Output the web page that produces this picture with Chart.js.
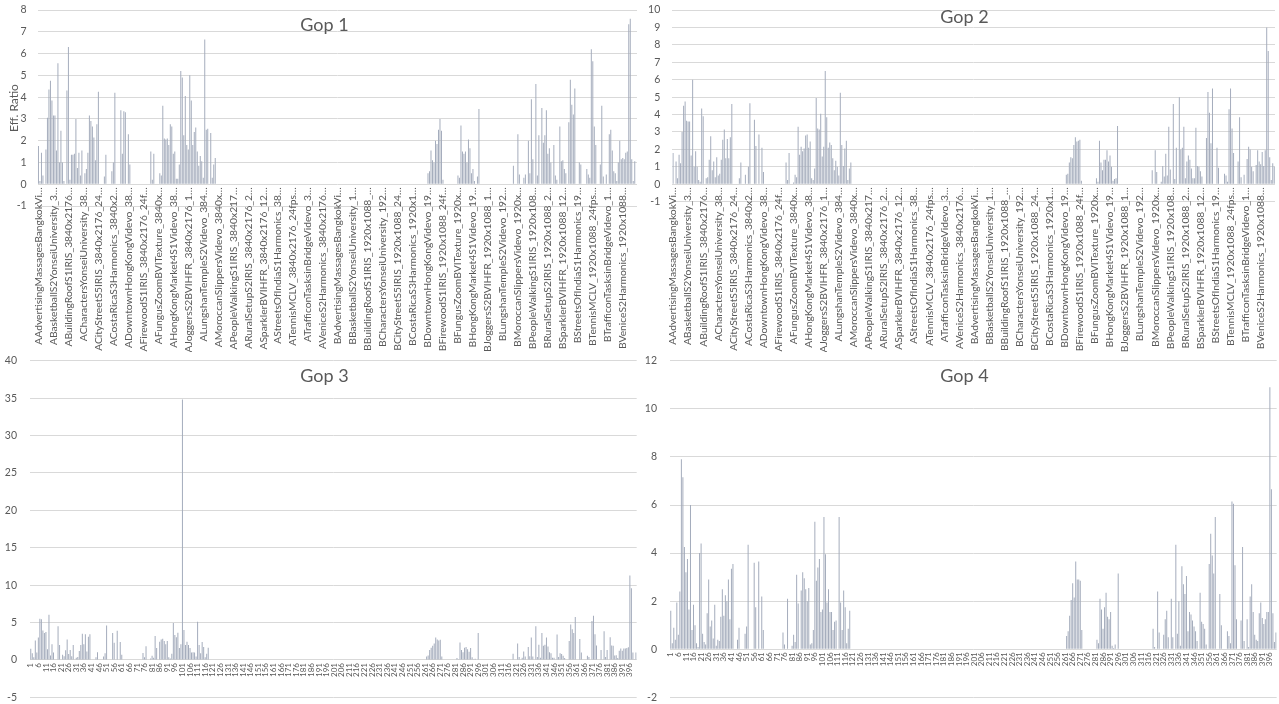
<!DOCTYPE html>
<html>
<head>
<meta charset="utf-8">
<script src="https://cdn.jsdelivr.net/npm/chart.js@4.4.1/dist/chart.umd.min.js"></script>
<style>
  html, body { margin: 0; padding: 0; background: #ffffff; }
  #wrap { position: relative; width: 1279px; height: 704px; overflow: hidden; }
  .panel { position: absolute; }
  .panel canvas { display: block; }
</style>
</head>
<body>
<div id="wrap">
  <div class="panel" style="left:0;top:0;"><canvas id="gop1" width="640" height="352"></canvas></div>
  <div class="panel" style="left:640px;top:0;"><canvas id="gop2" width="639" height="352"></canvas></div>
  <div class="panel" style="left:0;top:352px;"><canvas id="gop3" width="640" height="352"></canvas></div>
  <div class="panel" style="left:640px;top:352px;"><canvas id="gop4" width="639" height="352"></canvas></div>
</div>
<script>
// Sequence names as they appear on the category axis (10 test points per sequence)
const sequenceNames = [
  "AAdvertisingMassagesBangkokVi…", "ABasketballS2YonseiUniversity_3…", "ABuildingRoofS1IRIS_3840x2176…",
  "ACharactersYonseiUniversity_38…", "ACityStreetS5IRIS_3840x2176_24…", "ACostaRicaS3Harmonics_3840x2…",
  "ADowntownHongKongVidevo_38…", "AFirewoodS1IRIS_3840x2176_24f…", "AFungusZoomBVITexture_3840x…",
  "AHongKongMarket4S1Videvo_38…", "AJoggersS2BVIHFR_3840x2176_1…", "ALungshanTempleS2Videvo_384…",
  "AMoroccanSlippersVidevo_3840x…", "APeopleWalkingS1IRIS_3840x217…", "ARuralSetupS2IRIS_3840x2176_2…",
  "ASparklerBVIHFR_3840x2176_12…", "AStreetsOfIndiaS1Harmonics_38…", "ATennisMCLV_3840x2176_24fps…",
  "ATrafficonTasksinBridgeVidevo_3…", "AVeniceS2Harmonics_3840x2176…",
  "BAdvertisingMassagesBangkokVi…", "BBasketballS2YonseiUniversity_1…", "BBuildingRoofS1IRIS_1920x1088_…",
  "BCharactersYonseiUniversity_192…", "BCityStreetS5IRIS_1920x1088_24…", "BCostaRicaS3Harmonics_1920x1…",
  "BDowntownHongKongVidevo_19…", "BFirewoodS1IRIS_1920x1088_24f…", "BFungusZoomBVITexture_1920x…",
  "BHongKongMarket4S1Videvo_19…", "BJoggersS2BVIHFR_1920x1088_1…", "BLungshanTempleS2Videvo_192…",
  "BMoroccanSlippersVidevo_1920x…", "BPeopleWalkingS1IRIS_1920x108…", "BRuralSetupS2IRIS_1920x1088_2…",
  "BSparklerBVIHFR_1920x1088_12…", "BStreetsOfIndiaS1Harmonics_19…", "BTennisMCLV_1920x1088_24fps…",
  "BTrafficonTasksinBridgeVidevo_1…", "BVeniceS2Harmonics_1920x1088…"
];
const pointsPerSequence = 10;

// Eff. Ratio per test point, GOP 1
const gop1Ratio = [
  1.76,0.15,1.45,0.4,0,1.6,3.05,4.35,4.75,3.85,
  3.15,3.15,1.55,5.55,1.0,2.45,1.0,0.15,0,4.3,
  6.3,0.2,1.35,1.35,1.4,3.0,0.75,1.45,0.4,1.55,
  0,0.5,0.7,1.45,3.15,2.9,2.65,2.15,1.1,2.75,
  4.25,0,0,0,0.35,1.35,0,0,0,0.6,
  1.0,4.2,0,0,0,3.4,1.4,3.35,3.3,0,
  2.3,0.9,0,0,0,0,0,0,0,0,
  0,0,0,0,0,1.5,0.2,1.4,0,0,
  0,0.5,0.4,3.6,2.1,2.05,2.1,1.8,2.75,2.65,
  1.4,1.5,0.25,0.25,0.9,5.2,4.9,2.25,4.05,1.8,
  1.6,5.0,3.85,1.8,2.4,2.6,1.5,0.85,1.3,1.05,
  0.3,6.65,2.5,2.55,0,2.35,0.3,0.9,1.2,0,
  0,0,0,0,0,0,0,0,0,0,
  0,0,0,0,0,0,0,0,0,0,
  0,0,0,0,0,0,0,0,0,0,
  0,0,0,0,0,0,0,0,0,0,
  0,0,0,0,0,0,0,0,0,0,
  0,0,0,0,0,0,0,0,0,0,
  0,0,0,0,0,0,0,0,0,0,
  0,0,0,0,0,0,0,0,0,0,
  0,0,0,0,0,0,0,0,0,0,
  0,0,0,0,0,0,0,0,0,0,
  0,0,0,0,0,0,0,0,0,0,
  0,0,0,0,0,0,0,0,0,0,
  0,0,0,0,0,0,0,0,0,0,
  0,0,0,0,0,0,0,0,0,0,
  0.5,0.6,1.55,1.1,1.0,2.0,1.85,2.5,3.0,2.45,
  0.2,0,0,0,0,0,0,0,0,0,
  0.4,0.3,2.7,1.5,1.4,1.5,1.0,2.05,1.65,0.5,
  0.7,0.15,0,0.35,3.45,0,0,0,0,0,
  0,0,0,0,0,0,0,0,0,0,
  0,0,0,0,0,0,0,0.85,0,0,
  2.3,0.45,0,0,0.3,0.45,0,2.0,0.5,3.9,
  1.15,0,4.6,0.4,2.25,0,3.5,1.9,2.25,3.4,
  1.4,1.65,1.0,0,1.8,0.4,0.2,0,2.65,1.05,
  1.1,0.7,0.5,0,2.85,4.8,3.65,3.2,4.4,0,
  0,1.0,0.9,0,0,0,0.7,0.45,0.3,6.2,
  5.65,2.65,1.8,0,0,0.9,3.6,0.35,0,0.45,
  0,2.3,2.5,1.55,0.6,0.5,0.15,1.0,2.0,1.15,
  1.2,1.15,1.45,1.5,7.35,7.6,1.15,0.15,1.05,0
];

// Eff. Ratio per test point, GOP 2
const gop2Ratio = [
  1.8,0,1.3,0.35,1.7,1.2,3.0,4.5,4.75,3.65,
  3.6,3.6,1.65,6.0,1.0,1.9,1.0,0.25,0.15,4.35,
  3.9,0,0.35,0.4,1.4,2.75,0.8,1.3,0.4,1.55,
  0.5,0.6,1.4,2.55,3.15,1.5,2.6,1.5,2.7,4.6,
  0,0,0,0,0.35,1.25,0,0,0.55,0,
  1.0,4.65,0,0,3.7,2.2,0,2.85,0,2.1,
  0.7,0,0,0,0,0,0,0,0,0,
  0,0,0,0,0,1.25,0.25,1.8,0,0,
  0.1,0.55,0.4,3.3,1.7,2.15,1.9,2.05,2.8,2.85,
  2.1,2.45,0.35,0.25,0.9,4.95,3.2,3.15,4.05,1.6,
  2.15,6.5,3.85,2.1,2.4,2.25,1.5,0.8,1.35,1.0,
  0.5,5.25,2.25,1.05,2.05,2.5,0.25,0.9,1.25,0,
  0,0,0,0,0,0,0,0,0,0,
  0,0,0,0,0,0,0,0,0,0,
  0,0,0,0,0,0,0,0,0,0,
  0,0,0,0,0,0,0,0,0,0,
  0,0,0,0,0,0,0,0,0,0,
  0,0,0,0,0,0,0,0,0,0,
  0,0,0,0,0,0,0,0,0,0,
  0,0,0,0,0,0,0,0,0,0,
  0,0,0,0,0,0,0,0,0,0,
  0,0,0,0,0,0,0,0,0,0,
  0,0,0,0,0,0,0,0,0,0,
  0,0,0,0,0,0,0,0,0,0,
  0,0,0,0,0,0,0,0,0,0,
  0,0,0,0,0,0,0,0,0,0,
  0,0.55,0.6,1.25,1.55,1.5,2.25,2.7,2.45,2.5,
  2.55,0.2,0,0,0,0,0,0,0,0,
  0,0.35,0.15,2.5,1.25,0.8,1.4,1.4,1.95,1.3,
  1.65,1.0,0.2,0.3,0.35,3.35,0,0,0,0,
  0,0,0,0,0,0,0,0,0,0,
  0,0,0,0,0,0,0,0,0.8,0,
  1.95,0.7,0,0,0.15,1.05,0.45,1.75,0.5,3.3,
  0.85,0,4.6,0.3,2.1,0,5.0,2.0,2.1,3.3,
  0.35,1.3,1.65,1.4,0.9,0.35,0.35,3.25,1.05,1.0,
  0.75,0.45,0,0,2.65,5.3,4.1,2.35,5.5,0,
  0,2.1,0.95,0,0,0,0.6,0.5,0.15,4.3,
  5.5,3.2,1.8,0,0,1.3,3.85,0.4,0,0.55,
  0,1.45,2.15,2.0,1.0,0.75,0,1.1,1.95,1.3,
  1.15,1.85,1.05,1.95,9.0,7.65,1.55,0.25,1.2,1.0
];

// Eff. Ratio per test point, GOP 3
const gop3Ratio = [
  1.5,0.9,0.35,2.6,1.0,3.0,5.5,5.45,3.95,3.6,
  3.75,1.45,6.05,0.6,2.1,1.0,0,0,4.5,2.0,
  0,0.7,0.5,1.3,2.75,0.8,1.35,0.5,2.0,0,
  0.3,0.4,1.2,2.0,3.5,2.1,3.45,1.15,3.1,3.45,
  0,0,0,0.35,1.05,0,0,0,0.45,0.9,
  4.6,0,0,0,3.6,2.3,0,3.9,0,2.4,
  0.7,0,0,0,0,0,0,0,0,0,
  0,0,0,0,0.95,0.35,1.85,0,0,0.2,
  0.55,0.3,3.2,1.6,0,2.45,2.75,2.85,2.55,2.1,
  2.55,0.35,0.2,0.85,4.95,3.35,3.05,3.65,1.6,2.1,
  34.8,4.0,2.0,2.45,2.0,1.6,1.0,1.05,1.0,0.45,
  5.1,2.0,0.9,2.4,1.75,0.35,0.85,1.65,0,0,
  0,0,0,0,0,0,0,0,0,0,
  0,0,0,0,0,0,0,0,0,0,
  0,0,0,0,0,0,0,0,0,0,
  0,0,0,0,0,0,0,0,0,0,
  0,0,0,0,0,0,0,0,0,0,
  0,0,0,0,0,0,0,0,0,0,
  0,0,0,0,0,0,0,0,0,0,
  0,0,0,0,0,0,0,0,0,0,
  0,0,0,0,0,0,0,0,0,0,
  0,0,0,0,0,0,0,0,0,0,
  0,0,0,0,0,0,0,0,0,0,
  0,0,0,0,0,0,0,0,0,0,
  0,0,0,0,0,0,0,0,0,0,
  0,0,0,0,0,0,0,0,0,0,
  0,0.45,0.6,1.35,1.65,1.9,2.2,3.0,2.75,2.6,
  2.7,0.45,0,0,0,0,0,0,0,0,
  0,0.25,0.1,2.35,1.35,1.05,1.65,1.75,1.45,1.1,
  1.6,0.35,0.1,0.15,0,3.6,0,0,0,0,
  0,0,0,0,0,0,0,0,0,0,
  0,0,0,0,0,0,0,0,0.85,0,
  0,2.2,0.4,0,0.3,1.15,0.45,0,1.75,0.5,
  3.0,0.45,0,4.5,0.4,2.05,0.3,3.6,1.9,2.05,
  3.0,1.8,1.05,0.9,0.3,0.3,0,3.4,0.4,0.9,
  0.8,0.55,0.25,0,0,2.55,4.75,4.1,3.6,5.75,
  0,0,2.8,1.0,0,0,0,0.55,0.4,0,
  5.2,5.9,3.45,1.95,0,0,1.35,0,3.85,0.4,
  1.35,0,3.05,1.95,1.9,0.6,0.65,0.25,1.25,1.55,
  1.25,1.55,1.55,1.6,1.7,11.3,9.6,1.0,0.1,1.0
];

// Eff. Ratio per test point, GOP 4
const gop4Ratio = [
  1.6,0.25,0.9,0.4,1.95,0.6,2.4,7.9,7.15,4.25,
  3.2,3.75,1.65,6.0,0.8,1.85,1.0,0.25,0.1,4.0,
  4.4,0.65,0.3,0.2,1.5,2.9,0.95,1.2,0.45,1.85,
  0.15,0.4,0.35,1.35,2.5,1.4,2.25,2.0,2.9,1.25,
  3.35,3.55,0,0,0.4,0.9,0,0,0,0.65,
  0.95,4.35,0,0,0,3.6,1.75,0,3.65,0,
  2.2,0.8,0,0,0,0,0,0,0,0,
  0,0,0,0,0.7,0.2,0,2.1,0,0,
  0.15,0.6,0.3,3.1,1.9,0,2.45,3.2,2.95,2.5,
  2.0,2.55,0.2,0.25,0.8,5.3,2.85,3.4,3.75,1.55,
  1.65,5.5,3.95,1.95,2.5,1.55,1.55,0.8,1.15,1.2,
  0,5.5,1.95,0.8,2.45,1.75,0.25,0.85,1.6,0,
  0,0,0,0,0,0,0,0,0,0,
  0,0,0,0,0,0,0,0,0,0,
  0,0,0,0,0,0,0,0,0,0,
  0,0,0,0,0,0,0,0,0,0,
  0,0,0,0,0,0,0,0,0,0,
  0,0,0,0,0,0,0,0,0,0,
  0,0,0,0,0,0,0,0,0,0,
  0,0,0,0,0,0,0,0,0,0,
  0,0,0,0,0,0,0,0,0,0,
  0,0,0,0,0,0,0,0,0,0,
  0,0,0,0,0,0,0,0,0,0,
  0,0,0,0,0,0,0,0,0,0,
  0,0,0,0,0,0,0,0,0,0,
  0,0,0,0,0,0,0,0,0,0,
  0,0.55,0.75,1.4,2.05,2.75,2.15,3.65,2.9,2.9,
  2.85,0.8,0,0,0,0,0,0,0,0,
  0,0.4,0.25,2.1,1.65,0.85,1.75,2.35,1.35,1.25,
  1.55,0.15,0.05,0.2,0,3.15,0,0,0,0,
  0,0,0,0,0,0,0,0,0,0,
  0,0,0,0,0,0,0,0,0.85,0.1,
  0,2.4,0.7,0,0,0.6,1.25,1.6,0.5,0,
  2.1,0.5,0,4.35,0.65,2.0,0.15,3.45,2.7,2.3,
  3.05,0.75,1.55,1.45,1.2,0.95,0.75,0.35,0,2.35,
  1.15,1.05,0.85,0.2,0,3.55,4.8,3.9,3.15,5.5,
  0,0,2.3,1.0,0,0,0,0.75,0.55,0.25,
  6.15,6.05,3.5,1.25,0,0,1.2,4.25,0.35,0,
  1.25,0.1,2.2,2.7,1.55,0.6,0.4,0.35,1.5,1.95,
  1.3,1.05,1.25,1.55,1.55,10.9,6.65,1.5,0.3,0.7
];

// Category labels: named test points (top row) and numbered test points (bottom row)
const namedPoints = sequenceNames.flatMap(n => Array(pointsPerSequence).fill(n));
const numberedPoints = gop3Ratio.map((_, i) => String(i + 1));

const FONT = "Lato, 'Open Sans', 'Liberation Sans', sans-serif";
const TEXT = "#595959";
const GRID = "#d9d9d9";
const BAR = "#a3abbb";

// Panel heading drawn inside the plot, plus the optional value-axis caption
const panelTitle = {
  id: "panelTitle",
  afterDraw(chart, args, opts) {
    const ctx = chart.ctx;
    ctx.save();
    ctx.fillStyle = TEXT;
    ctx.textAlign = "center";
    ctx.textBaseline = "alphabetic";
    ctx.font = "18px " + FONT;
    ctx.fillText(opts.text, opts.x, opts.y);
    if (opts.axisText) {
      const area = chart.chartArea;
      ctx.translate(opts.axisX, (area.top + area.bottom) / 2);
      ctx.rotate(-Math.PI / 2);
      ctx.textBaseline = "middle";
      ctx.font = "12px " + FONT;
      ctx.fillText(opts.axisText, 0, 0);
    }
    ctx.restore();
  }
};

function makePanel(id, p) {
  return new Chart(document.getElementById(id), {
    type: "bar",
    data: {
      labels: p.labels,
      datasets: [{
        data: p.values,
        backgroundColor: BAR,
        borderWidth: 0,
        barPercentage: 0.65,
        categoryPercentage: 1.0
      }]
    },
    options: {
      responsive: false,
      animation: false,
      devicePixelRatio: 1,
      // the category axis sits on the zero line, so its labels hang into the bottom padding
      layout: { padding: { top: p.padTop, right: p.padRight, bottom: p.padBottom, left: 0 } },
      plugins: {
        legend: { display: false },
        tooltip: { enabled: false },
        panelTitle: { text: p.title, x: 324.5, y: p.titleY, axisText: p.yTitle, axisX: 14 }
      },
      scales: {
        x: {
          position: { y: 0 },
          grid: { display: false, drawTicks: false },
          border: { display: false },
          ticks: {
            autoSkip: false,
            minRotation: 90,
            maxRotation: 90,
            padding: p.labelGap,
            color: TEXT,
            font: { family: FONT, size: p.labelSize },
            callback: (v, i) => (i % p.every === 0 ? p.labels[i] : "")
          },
          afterFit: s => { s.paddingLeft = 0; s.paddingRight = 0; }
        },
        y: {
          min: p.min,
          max: p.max,
          grid: { color: GRID, lineWidth: 1, drawTicks: false },
          border: { display: false },
          ticks: {
            stepSize: p.step,
            padding: p.tickGap,
            color: TEXT,
            font: { family: FONT, size: 10.5 }
          },
          afterFit: s => { s.width = p.yWidth; s.paddingTop = 0; s.paddingBottom = 0; }
        }
      }
    },
    plugins: [panelTitle]
  });
}

makePanel("gop1", {
  title: "Gop 1", titleY: 31, labels: namedPoints, values: gop1Ratio, every: pointsPerSequence,
  labelSize: 10.3, labelGap: 3, min: -1, max: 8, step: 1, yTitle: "Eff. Ratio",
  padTop: 10, padRight: 3, padBottom: 146, yWidth: 37.7, tickGap: 11
});
makePanel("gop2", {
  title: "Gop 2", titleY: 23, labels: namedPoints, values: gop2Ratio, every: pointsPerSequence,
  labelSize: 10.3, labelGap: 3, min: -1, max: 10, step: 1, yTitle: null,
  padTop: 10, padRight: 4, padBottom: 150.3, yWidth: 32.3, tickGap: 12
});
makePanel("gop3", {
  title: "Gop 3", titleY: 30, labels: numberedPoints, values: gop3Ratio, every: 5,
  labelSize: 8, labelGap: 3, min: -5, max: 40, step: 5, yTitle: null,
  padTop: 8.7, padRight: 3.3, padBottom: 6.6, yWidth: 30, tickGap: 13
});
makePanel("gop4", {
  title: "Gop 4", titleY: 30, labels: numberedPoints, values: gop4Ratio, every: 5,
  labelSize: 8, labelGap: 3, min: -2, max: 12, step: 2, yTitle: null,
  padTop: 8.7, padRight: 2.3, padBottom: 6.6, yWidth: 30, tickGap: 13
});
</script>
</body>
</html>
